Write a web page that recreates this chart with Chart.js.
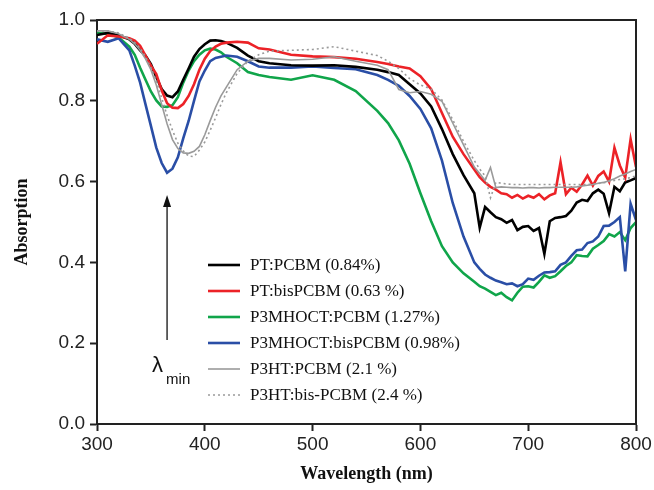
<!DOCTYPE html>
<html>
<head>
<meta charset="utf-8">
<script src="https://cdn.jsdelivr.net/npm/chart.js@4/dist/chart.umd.min.js"></script>
<style>
  html, body { margin: 0; padding: 0; background: #fff; }
  #wrap { width: 654px; height: 490px; }
</style>
</head>
<body>
<div id="wrap"><canvas id="absChart"></canvas></div>
<script>
// Wavelength grid (nm) shared by all spectra
const wavelengths = [300,310,320,330,335,340,345,350,355,360,365,370,375,380,385,390,395,400,405,410,415,420,430,440,450,460,480,500,520,540,560,570,580,590,600,610,620,630,640,650,655,660,665,670,675,680,685,690,695,700,705,710,715,720,725,730,735,740,745,750,755,760,765,770,775,780,785,790,795,800];

// Series labels
const labels = ['PT:PCBM (0.84%)', 'PT:bisPCBM (0.63 %)', 'P3MHOCT:PCBM (1.27%)', 'P3MHOCT:bisPCBM (0.98%)', 'P3HT:PCBM (2.1 %)', 'P3HT:bis-PCBM (2.4 %)'];

// Absorption values
const ptPcbm = [0.963,0.968,0.962,0.952,0.941,0.925,0.912,0.891,0.859,0.829,
    0.813,0.809,0.823,0.852,0.88,0.909,0.928,0.94,0.949,0.95,
    0.948,0.944,0.931,0.912,0.898,0.893,0.888,0.887,0.888,0.884,
    0.877,0.871,0.864,0.841,0.818,0.786,0.73,0.668,0.616,0.571,
    0.486,0.537,0.524,0.512,0.507,0.498,0.505,0.48,0.488,0.49,
    0.478,0.485,0.421,0.502,0.51,0.512,0.515,0.528,0.548,0.555,
    0.552,0.571,0.58,0.57,0.522,0.587,0.576,0.598,0.603,0.609];
const ptBis = [0.941,0.962,0.959,0.955,0.949,0.936,0.912,0.887,0.866,0.826,
    0.794,0.783,0.782,0.792,0.812,0.841,0.877,0.904,0.923,0.934,
    0.941,0.944,0.946,0.944,0.93,0.927,0.914,0.91,0.908,0.904,
    0.896,0.891,0.885,0.88,0.861,0.829,0.77,0.711,0.668,0.63,
    0.611,0.598,0.587,0.58,0.571,0.569,0.56,0.567,0.558,0.565,
    0.56,0.569,0.556,0.566,0.571,0.648,0.569,0.585,0.575,0.593,
    0.615,0.59,0.614,0.625,0.6,0.684,0.64,0.61,0.705,0.636];
const p3mhoctPcbm = [0.968,0.966,0.957,0.934,0.914,0.882,0.852,0.823,0.801,0.786,
    0.785,0.789,0.809,0.845,0.875,0.898,0.914,0.925,0.929,0.927,
    0.92,0.909,0.893,0.871,0.864,0.859,0.852,0.863,0.852,0.824,
    0.775,0.745,0.702,0.644,0.571,0.502,0.44,0.4,0.373,0.352,
    0.341,0.335,0.327,0.319,0.325,0.314,0.306,0.325,0.34,0.341,
    0.338,0.352,0.368,0.362,0.366,0.378,0.391,0.4,0.418,0.416,
    0.415,0.434,0.443,0.453,0.47,0.464,0.475,0.455,0.485,0.5];
const p3mhoctBis = [0.952,0.946,0.955,0.925,0.887,0.845,0.791,0.738,0.684,0.646,
    0.622,0.632,0.66,0.707,0.75,0.8,0.848,0.875,0.898,0.906,
    0.909,0.912,0.909,0.898,0.885,0.882,0.882,0.885,0.881,0.878,
    0.864,0.852,0.837,0.812,0.78,0.732,0.652,0.547,0.464,0.4,
    0.384,0.37,0.362,0.355,0.351,0.346,0.348,0.341,0.346,0.36,
    0.357,0.367,0.375,0.376,0.378,0.394,0.4,0.416,0.43,0.432,
    0.448,0.452,0.464,0.49,0.491,0.5,0.512,0.378,0.545,0.505];
const p3htPcbm = [0.973,0.973,0.966,0.952,0.941,0.925,0.904,0.877,0.839,0.791,
    0.743,0.704,0.682,0.671,0.67,0.675,0.687,0.716,0.751,0.784,
    0.812,0.834,0.877,0.898,0.905,0.905,0.901,0.903,0.909,0.898,
    0.888,0.877,0.828,0.82,0.823,0.816,0.799,0.745,0.691,0.636,
    0.62,0.603,0.635,0.585,0.587,0.586,0.585,0.585,0.584,0.585,
    0.585,0.584,0.585,0.585,0.586,0.586,0.586,0.586,0.587,0.589,
    0.591,0.593,0.596,0.598,0.602,0.607,0.614,0.619,0.625,0.63];
const p3htBis = [0.973,0.973,0.968,0.955,0.944,0.93,0.909,0.882,0.85,0.807,
    0.764,0.727,0.695,0.676,0.663,0.662,0.678,0.698,0.727,0.758,
    0.791,0.82,0.868,0.898,0.914,0.923,0.925,0.927,0.934,0.923,
    0.912,0.898,0.88,0.855,0.839,0.829,0.802,0.753,0.7,0.652,
    0.631,0.614,0.56,0.598,0.596,0.594,0.593,0.593,0.593,0.593,
    0.593,0.593,0.593,0.593,0.593,0.593,0.593,0.593,0.593,0.593,
    0.593,0.594,0.595,0.597,0.6,0.603,0.605,0.607,0.61,0.614];

// Axis ticks
const xTicks = [300, 400, 500, 600, 700, 800];
const yTicks = [0.0, 0.2, 0.4, 0.6, 0.8, 1.0];

// lambda-min marker: wavelength and arrow extent (absorption units)
const lambdaMin = 365;
const arrowRange = [0.208, 0.567];

const seriesValues = [ptPcbm, ptBis, p3mhoctPcbm, p3mhoctBis, p3htPcbm, p3htBis];
const colors = ['#000000', '#ec2227', '#10a54a', '#2a4ea6', '#9a9a9a', '#9a9a9a'];
const widths = [2.6, 2.6, 2.6, 2.6, 1.6, 1.6];
const dashes = [[], [], [], [], [], [2, 3]];
const drawOrder = [3, 2, 5, 4, 1, 0];

const datasets = seriesValues.map((vals, i) => ({
    label: labels[i],
    data: wavelengths.map((w, j) => ({ x: w, y: vals[j] })),
    borderColor: colors[i],
    borderWidth: widths[i],
    borderDash: dashes[i],
    pointRadius: 0,
    tension: 0,
    fill: false,
    order: drawOrder[i]
}));

// Frame, inline legend and lambda-min arrow
const extrasPlugin = {
    id: 'extras',
    afterDraw(chart) {
        const ctx = chart.ctx;
        const area = chart.chartArea;
        const xs = chart.scales.x;
        const ys = chart.scales.y;

        ctx.save();
        // top and right frame lines
        ctx.strokeStyle = '#222';
        ctx.lineWidth = 2;
        ctx.beginPath();
        ctx.moveTo(area.left, area.top);
        ctx.lineTo(area.right, area.top);
        ctx.lineTo(area.right, area.bottom);
        ctx.stroke();

        // legend inside the plot
        const legX = 208, legY = 265, rowH = 26;
        ctx.font = '17px "Liberation Serif", "Times New Roman", serif';
        ctx.textBaseline = 'middle';
        ctx.textAlign = 'left';
        datasets.forEach((ds, i) => {
            const y = legY + i * rowH;
            ctx.strokeStyle = ds.borderColor;
            ctx.lineWidth = ds.borderWidth;
            ctx.setLineDash(ds.borderDash);
            ctx.beginPath();
            ctx.moveTo(legX, y);
            ctx.lineTo(legX + 32, y);
            ctx.stroke();
            ctx.setLineDash([]);
            ctx.fillStyle = '#111';
            ctx.fillText(ds.label, legX + 42, y + 1);
        });

        // arrow pointing at the absorption minimum
        const ax = xs.getPixelForValue(lambdaMin);
        const yBot = ys.getPixelForValue(arrowRange[0]);
        const yTop = ys.getPixelForValue(arrowRange[1]);
        ctx.strokeStyle = '#222';
        ctx.fillStyle = '#111';
        ctx.lineWidth = 1.4;
        ctx.beginPath();
        ctx.moveTo(ax, yBot);
        ctx.lineTo(ax, yTop + 8);
        ctx.stroke();
        ctx.beginPath();
        ctx.moveTo(ax, yTop);
        ctx.lineTo(ax - 4, yTop + 12);
        ctx.lineTo(ax + 4, yTop + 12);
        ctx.closePath();
        ctx.fill();

        // lambda_min label
        ctx.textBaseline = 'alphabetic';
        ctx.font = '22px "Liberation Sans", Arial, sans-serif';
        ctx.fillText('\u03bb', ax - 15, yBot + 32);
        ctx.font = '15px "Liberation Sans", Arial, sans-serif';
        ctx.fillText('min', ax - 1, yBot + 44);
        ctx.restore();
    }
};

const ctx = document.getElementById('absChart');
new Chart(ctx, {
    type: 'line',
    data: { datasets: datasets },
    options: {
        responsive: true,
        maintainAspectRatio: false,
        animation: false,
        devicePixelRatio: 1,
        layout: { padding: { left: 0, right: 18, top: 20, bottom: 0 } },
        plugins: {
            legend: { display: false },
            tooltip: { enabled: false }
        },
        scales: {
            x: {
                type: 'linear',
                min: 300,
                max: 800,
                afterBuildTicks: (scale) => { scale.ticks = xTicks.map(v => ({ value: v })); },
                afterFit: (scale) => { scale.height = 66; },
                ticks: {
                    color: '#222',
                    font: { family: '"Liberation Sans", Arial, sans-serif', size: 19 },
                    padding: 2,
                    maxRotation: 0
                },
                grid: { drawOnChartArea: false, drawTicks: true, tickLength: 7, tickColor: '#222', tickWidth: 2 },
                border: { display: true, color: '#222', width: 2 },
                title: {
                    display: true,
                    text: 'Wavelength (nm)',
                    color: '#111',
                    font: { family: '"Liberation Serif", "Times New Roman", serif', size: 18, weight: 'bold' },
                    padding: { top: 0, bottom: 5 }
                }
            },
            y: {
                min: 0,
                max: 1,
                afterBuildTicks: (scale) => { scale.ticks = yTicks.map(v => ({ value: v })); },
                afterFit: (scale) => { scale.width = 97; },
                ticks: {
                    color: '#222',
                    font: { family: '"Liberation Sans", Arial, sans-serif', size: 19 },
                    padding: 5,
                    callback: (v) => Number(v).toFixed(1)
                },
                grid: { drawOnChartArea: false, drawTicks: true, tickLength: 7, tickColor: '#222', tickWidth: 2 },
                border: { display: true, color: '#222', width: 2 },
                title: {
                    display: true,
                    text: 'Absorption',
                    color: '#111',
                    font: { family: '"Liberation Serif", "Times New Roman", serif', size: 18, weight: 'bold' },
                    padding: { top: 12, bottom: 0 }
                }
            }
        }
    },
    plugins: [extrasPlugin]
});
</script>
</body>
</html>
